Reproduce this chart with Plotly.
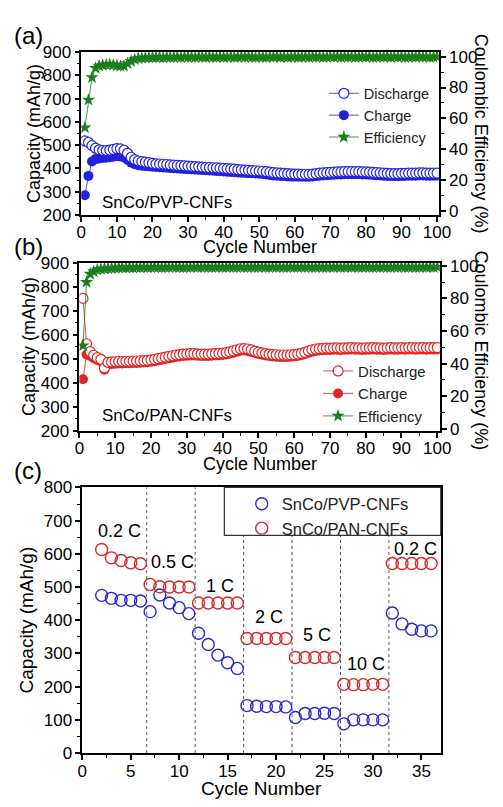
import plotly.graph_objects as go

# ---------------- data ----------------
cycles_a = list(range(1, 101))
discharge_a = [518, 512, 498, 487, 480, 477, 477, 479, 482, 485,
               484, 478, 465, 448, 438, 432, 429, 427, 425, 422,
               420, 419, 418, 417, 415, 414, 413, 412, 411, 410,
               409, 408, 407, 406, 405, 404, 403, 402, 401, 400,
               399, 398, 397, 395, 394, 393, 392, 391, 390, 389,
               388, 386, 384, 382, 381, 380, 379, 378, 377, 376,
               376, 375, 375, 375, 376, 378, 380, 381, 382, 383,
               384, 385, 385, 386, 386, 386, 386, 386, 385, 385,
               384, 383, 382, 381, 380, 379, 378, 378, 378, 379,
               379, 380, 380, 380, 381, 381, 380, 380, 380, 380]
charge_a = [285, 368, 430, 440, 443, 445, 446, 448, 450, 452,
            451, 447, 437, 425, 418, 414, 412, 410, 409, 407,
            406, 405, 404, 403, 402, 401, 400, 399, 398, 397,
            396, 395, 394, 393, 392, 391, 390, 389, 388, 387,
            386, 385, 384, 383, 382, 381, 380, 379, 378, 377,
            376, 374, 372, 370, 369, 368, 367, 366, 365, 365,
            364, 364, 364, 364, 365, 367, 369, 370, 371, 372,
            373, 374, 374, 375, 375, 375, 375, 375, 374, 374,
            373, 372, 371, 370, 369, 368, 368, 367, 367, 368,
            368, 369, 369, 369, 370, 370, 369, 369, 369, 369]
eff_a = [54, 72, 86.5, 92.5, 94, 94.5, 94.8, 95, 94.6, 94.2,
         93.8, 93.9, 95.5, 97, 98.2, 98.8, 99, 99.2, 99.3, 99.4,
         99.5, 99.6, 99.4, 99.7, 99.5, 99.6, 99.7, 99.5, 99.8, 99.6,
         99.7, 99.5, 99.8, 99.7, 99.6, 99.8, 99.7, 99.5, 99.8, 99.6,
         99.7, 99.8, 99.6, 99.7, 99.9, 99.6, 99.8, 99.7, 99.5, 99.8,
         99.7, 99.6, 99.8, 99.7, 99.9, 99.6, 99.8, 99.5, 99.7, 99.8,
         99.6, 99.7, 99.8, 99.6, 99.9, 99.7, 99.8, 99.6, 99.7, 99.8,
         99.7, 99.9, 99.6, 99.8, 99.7, 99.8, 99.6, 99.7, 99.9, 99.7,
         99.8, 99.6, 99.7, 99.8, 99.7, 99.9, 99.6, 99.8, 99.7, 99.8,
         99.6, 99.7, 99.8, 99.7, 99.9, 99.7, 99.8, 99.6, 99.7, 99.8]

cycles_b = list(range(1, 101))
discharge_b = [752, 563, 530, 515, 505, 498, 462, 485, 487, 488,
               489, 489, 490, 490, 491, 491, 492, 493, 494, 496,
               498, 501, 504, 507, 510, 513, 516, 518, 520, 521,
               522, 522, 521, 520, 520, 520, 521, 522, 523, 524,
               526, 529, 533, 538, 542, 543, 541, 537, 532, 528,
               525, 522, 520, 518, 517, 516, 516, 516, 517, 518,
               520, 523, 527, 533, 538, 541, 543, 544, 545, 545,
               546, 546, 545, 546, 546, 547, 546, 546, 545, 546,
               546, 547, 546, 546, 545, 546, 547, 546, 546, 547,
               546, 547, 547, 546, 547, 547, 546, 547, 547, 547]
charge_b = [415, 518, 512, 503, 495, 489, 455, 476, 479, 480,
            481, 481, 482, 482, 483, 483, 484, 485, 486, 488,
            490, 493, 496, 499, 502, 505, 508, 510, 512, 513,
            514, 514, 513, 512, 512, 512, 513, 514, 515, 516,
            518, 521, 525, 530, 534, 535, 533, 529, 524, 520,
            517, 514, 512, 510, 509, 508, 508, 508, 509, 510,
            512, 515, 519, 525, 530, 533, 535, 536, 537, 537,
            538, 538, 537, 538, 538, 539, 538, 538, 537, 538,
            538, 539, 538, 538, 537, 538, 539, 538, 538, 539,
            538, 539, 539, 538, 539, 539, 538, 539, 539, 539]
eff_b = [51, 90, 95, 96.5, 97.5, 98, 98.2, 98.4, 98.5, 98.6,
         98.7, 98.8, 98.7, 98.9, 98.8, 99.0, 98.9, 99.1, 98.9, 99.0,
         99.1, 99.0, 98.9, 99.1, 99.0, 99.2, 99.0, 99.1, 98.9, 99.1,
         99.0, 99.2, 99.1, 99.0, 99.2, 99.1, 99.0, 99.1, 99.2, 99.0,
         99.1, 99.2, 99.0, 99.1, 99.2, 99.0, 99.1, 99.2, 99.1, 99.0,
         99.2, 99.1, 99.0, 99.2, 99.1, 99.2, 99.0, 99.1, 99.2, 99.1,
         99.0, 99.2, 99.1, 99.2, 99.0, 99.1, 99.2, 99.1, 99.0, 99.2,
         99.1, 99.2, 99.0, 99.1, 99.2, 99.1, 99.2, 99.0, 99.1, 99.2,
         99.1, 99.0, 99.2, 99.1, 99.2, 99.0, 99.1, 99.2, 99.1, 99.2,
         99.0, 99.1, 99.2, 99.1, 99.0, 99.2, 99.1, 99.2, 99.1, 99.2]

cycles_c = list(range(2, 37))
pvp_c = [475, 466, 460, 460, 458, 426, 476, 452, 438, 420,
         361, 327, 295, 272, 255, 143, 141, 140, 140, 139,
         107, 119, 119, 120, 119, 88, 100, 100, 100, 100,
         422, 389, 373, 368, 368]
pan_c = [613, 588, 580, 573, 570, 508, 501, 500, 500, 500,
         452, 452, 452, 452, 452, 345, 345, 345, 345, 345,
         288, 288, 288, 288, 288, 207, 206, 206, 207, 207,
         571, 571, 571, 571, 571]
rate_labels = ["0.2 C", "0.5 C", "1 C", "2 C", "5 C", "10 C", "0.2 C"]
rate_label_x = [3.8, 9.3, 14.25, 19.25, 24.25, 29.25, 34.4]
rate_label_y = [670, 574, 503, 409, 356, 268, 615]
rate_boundaries = [6.65, 11.65, 16.65, 21.65, 26.65, 31.65]

# ---------------- style ----------------
W, H = 503, 807
def px(x): return x / W
def py(y): return 1 - y / H

FONT = "Arial, Liberation Sans, sans-serif"
BLUE = "#2222dd"
RED = "#e02626"
GREEN = "#1b7d1b"
BLUE_C = "#2a2acc"
RED_C = "#d42a2a"

fig = go.Figure()

# (a)
fig.add_trace(go.Scatter(x=cycles_a, y=charge_a, name="Charge", mode="lines+markers",
                         xaxis="x", yaxis="y", legend="legend", legendrank=2,
                         line=dict(color=BLUE, width=0.8),
                         marker=dict(symbol="circle", size=10, color=BLUE)))
fig.add_trace(go.Scatter(x=cycles_a, y=discharge_a, name="Discharge", mode="lines+markers",
                         xaxis="x", yaxis="y", legend="legend", legendrank=1,
                         line=dict(color=BLUE, width=0.8),
                         marker=dict(symbol="circle", size=10, color="white",
                                     line=dict(color=BLUE, width=1.2))))
fig.add_trace(go.Scatter(x=cycles_a, y=eff_a, name="Efficiency", mode="lines+markers",
                         xaxis="x", yaxis="y2", legend="legend", legendrank=3,
                         line=dict(color=GREEN, width=0.8),
                         marker=dict(symbol="star", size=10, color=GREEN)))

# (b)
fig.add_trace(go.Scatter(x=cycles_b, y=charge_b, name="Charge", mode="lines+markers",
                         xaxis="x2", yaxis="y3", legend="legend2", legendrank=2,
                         line=dict(color=RED, width=0.8),
                         marker=dict(symbol="circle", size=10, color=RED)))
fig.add_trace(go.Scatter(x=cycles_b, y=discharge_b, name="Discharge", mode="lines+markers",
                         xaxis="x2", yaxis="y3", legend="legend2", legendrank=1,
                         line=dict(color=RED, width=0.8),
                         marker=dict(symbol="circle", size=10, color="white",
                                     line=dict(color=RED, width=1.2))))
fig.add_trace(go.Scatter(x=cycles_b, y=eff_b, name="Efficiency", mode="lines+markers",
                         xaxis="x2", yaxis="y4", legend="legend2", legendrank=3,
                         line=dict(color=GREEN, width=0.8),
                         marker=dict(symbol="star", size=10, color=GREEN)))

# (c)
fig.add_trace(go.Scatter(x=cycles_c, y=pvp_c, name="SnCo/PVP-CNFs", mode="markers",
                         xaxis="x3", yaxis="y5", legend="legend3",
                         marker=dict(symbol="circle-open", size=12, color=BLUE_C,
                                     line=dict(width=1.4))))
fig.add_trace(go.Scatter(x=cycles_c, y=pan_c, name="SnCo/PAN-CNFs", mode="markers",
                         xaxis="x3", yaxis="y5", legend="legend3",
                         marker=dict(symbol="circle-open", size=12, color=RED_C,
                                     line=dict(width=1.4))))

TF = dict(family=FONT, size=17, color="black")
MINOR = dict(ticks="outside", ticklen=3, tickwidth=1.2, tickcolor="black")
def ax(**kw):
    base = dict(showline=True, linecolor="black", linewidth=1.6, ticks="outside",
                ticklen=5, tickwidth=1.5, tickcolor="black", showgrid=False,
                zeroline=False, tickfont=TF)
    base.update(kw)
    return base

layout = dict(
    width=W, height=H, margin=dict(l=0, r=0, t=0, b=0),
    paper_bgcolor="white", plot_bgcolor="white",
    font=dict(family=FONT, color="black"),
    xaxis=ax(domain=[px(79), px(449)], anchor="y", range=[0, 100.5], tick0=0, dtick=10,
             mirror=True, ticklabelstandoff=-4, minor=dict(dtick=5, **MINOR)),
    yaxis=ax(domain=[py(211), py(44)], anchor="x", range=[200, 900], tick0=0, dtick=100,
             minor=dict(dtick=50, **MINOR)),
    yaxis2=ax(overlaying="y", side="right", anchor="x", range=[-2.5, 103], tick0=0, dtick=20,
              minor=dict(dtick=10, **MINOR)),
    xaxis2=ax(domain=[px(77), px(450)], anchor="y3", range=[0, 100.7], tick0=0, dtick=10,
              mirror=True, ticklabelstandoff=-4, minor=dict(dtick=5, **MINOR)),
    yaxis3=ax(domain=[py(432), py(260)], anchor="x2", range=[200, 900], tick0=0, dtick=100,
              minor=dict(dtick=50, **MINOR)),
    yaxis4=ax(overlaying="y3", side="right", anchor="x2", range=[-1.2, 101.8], tick0=0, dtick=20,
              minor=dict(dtick=10, **MINOR)),
    xaxis3=ax(domain=[px(80), px(451)], anchor="y5", range=[0, 37], tick0=0, dtick=5,
              mirror=True, ticklabelstandoff=-3, minor=dict(dtick=2.5, **MINOR)),
    yaxis5=ax(domain=[py(762), py(490)], anchor="x3", range=[0, 800], tick0=0, dtick=100,
              mirror=True, minor=dict(dtick=50, **MINOR)),
    legend=dict(x=px(330), y=py(70), xanchor="left", yanchor="top", bgcolor="rgba(0,0,0,0)",
                font=dict(family=FONT, size=14.5, color="#222"), tracegroupgap=0),
    legend2=dict(x=px(324), y=py(354), xanchor="left", yanchor="top", bgcolor="rgba(0,0,0,0)",
                 font=dict(family=FONT, size=15, color="#222"), tracegroupgap=0),
    legend3=dict(x=px(245), y=py(489), xanchor="left", yanchor="top", bgcolor="rgba(0,0,0,0)",
                 font=dict(family=FONT, size=16.5, color="#222"), tracegroupgap=0),
)
fig.update_layout(**layout)

# dotted rate boundaries
for xb in rate_boundaries:
    fig.add_shape(type="line", xref="x3", yref="y5 domain", x0=xb, x1=xb, y0=0, y1=1,
                  line=dict(color="#555", width=1, dash="dot"), layer="below")
# legend box of panel (c)
fig.add_shape(type="rect", xref="paper", yref="paper", x0=px(227), x1=px(451),
              y0=py(539), y1=py(490), fillcolor="white", line=dict(color="#333", width=1.2),
              layer="above")

annos = []
def pa(text, x, y, size, angle=0):
    annos.append(dict(text=text, x=px(x), y=py(y), xref="paper", yref="paper",
                      showarrow=False, textangle=angle, xanchor="center", yanchor="middle",
                      font=dict(family=FONT, size=size, color="black")))

pa("(a)", 24, 27, 24)
pa("(b)", 24, 243, 24)
pa("(c)", 24, 473, 24)
pa("Capacity (mAh/g)", 30, 127, 18, -90)
pa("Coulombic Efficiency (%)", 493, 128, 18, 90)
pa("Cycle Number", 264, 244, 18)
pa("SnCo/PVP-CNFs", 168, 198, 17)
pa("Capacity (mAh/g)", 25, 346, 18, -90)
pa("Coulombic Efficiency (%)", 493, 350, 18, 90)
pa("Cycle Number", 264, 466, 18)
pa("SnCo/PAN-CNFs", 168, 416, 17)
pa("Capacity (mAh/g)", 22, 626, 19, -90)
pa("Cycle Number", 265, 798, 19)

for t, xv, yv in zip(rate_labels, rate_label_x, rate_label_y):
    annos.append(dict(text=t, x=xv, y=yv, xref="x3", yref="y5", showarrow=False,
                      font=dict(family=FONT, size=18, color="black")))

fig.update_layout(annotations=annos)
fig.write_html("out.html")
